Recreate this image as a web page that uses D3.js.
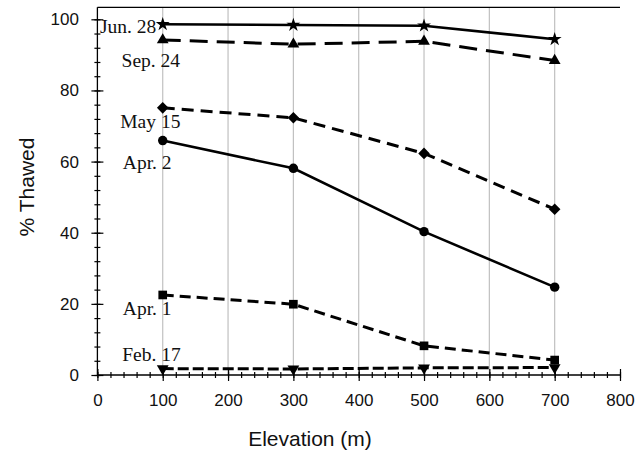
<!DOCTYPE html>
<html>
<head>
<meta charset="utf-8">
<script src="https://cdn.jsdelivr.net/npm/d3@7"></script>
<style>
  body { margin: 0; background: #fff; }
  #chart { width: 640px; height: 450px; }
</style>
</head>
<body>
<div id="chart"></div>
<script>
// elevations (m)
const elevations = [100, 300, 500, 700];

// % thawed per survey date
const jun28 = [98.6, 98.4, 98.2, 94.4];
const sep24 = [94.2, 93.0, 93.8, 88.4];
const may15 = [75.1, 72.3, 62.3, 46.6];
const apr2 = [65.9, 58.1, 40.3, 24.7];
const apr1 = [22.5, 19.9, 8.2, 4.2];
const feb17 = [1.8, 1.7, 2.0, 2.1];

const seriesNames = ["Jun. 28", "Sep. 24", "May 15", "Apr. 2", "Apr. 1", "Feb. 17"];
const seriesValues = [jun28, sep24, may15, apr2, apr1, feb17];

// label anchor in data units (elevation, %)
const labelElev = [4, 37, 35, 39, 39, 38];
const labelPct = [96.1, 86.7, 69.4, 57.9, 16.9, 4.0];

const xTicks = [0, 100, 200, 300, 400, 500, 600, 700, 800];
const yTicks = [0, 20, 40, 60, 80, 100];

function draw() {
  const margin = {top: 19.3, right: 20, bottom: 75, left: 97.4},
      width = 620 - margin.left,
      height = 375 - margin.top;

  const svg = d3.select("#chart")
    .append("svg")
      .attr("width", 640)
      .attr("height", 450)
    .append("g")
      .attr("transform", `translate(${margin.left}, ${margin.top})`);

  const x = d3.scaleLinear().domain([0, 800]).range([0, width]);
  const y = d3.scaleLinear().domain([0, 100]).range([height, 0]);
  const frameTop = -12;

  // vertical grid lines
  svg.append("g")
    .selectAll("line")
    .data(xTicks.filter(d => d > 0 && d < 800))
    .join("line")
      .attr("x1", d => x(d)).attr("x2", d => x(d))
      .attr("y1", height).attr("y2", frameTop)
      .attr("stroke", "#c0c0c0")
      .attr("stroke-width", 1.2);

  // top frame line
  svg.append("line")
    .attr("x1", 0).attr("x2", width)
    .attr("y1", frameTop).attr("y2", frameTop)
    .attr("stroke", "#000").attr("stroke-width", 1.3);

  // minor ticks
  const xMinor = d3.range(0, 801, 20);
  const yMinor = d3.range(0, 101, 4);

  const styleAxis = g => {
    g.select(".domain").remove();
    g.selectAll("line").attr("stroke", "#000").attr("stroke-width", 1.2);
  };

  svg.append("g").attr("transform", `translate(0, ${height})`)
    .call(d3.axisBottom(x).tickValues(xMinor).tickSize(3).tickFormat(""))
    .call(styleAxis);
  svg.append("g").attr("transform", `translate(0, ${height})`)
    .call(d3.axisTop(x).tickValues(xMinor).tickSize(3).tickFormat(""))
    .call(styleAxis);
  svg.append("g")
    .call(d3.axisLeft(y).tickValues(yMinor).tickSize(3).tickFormat(""))
    .call(styleAxis);
  svg.append("g")
    .call(d3.axisRight(y).tickValues(yMinor).tickSize(3).tickFormat(""))
    .call(styleAxis);

  // major ticks + labels
  const xAx = svg.append("g").attr("transform", `translate(0, ${height})`)
    .call(d3.axisBottom(x).tickValues(xTicks).tickSize(6).tickPadding(13))
    .call(styleAxis);
  svg.append("g").attr("transform", `translate(0, ${height})`)
    .call(d3.axisTop(x).tickValues(xTicks).tickSize(6).tickFormat(""))
    .call(styleAxis);
  const yAx = svg.append("g")
    .call(d3.axisLeft(y).tickValues(yTicks).tickSize(6).tickPadding(12.5))
    .call(styleAxis);
  svg.append("g")
    .call(d3.axisRight(y).tickValues(yTicks).tickSize(6).tickFormat(""))
    .call(styleAxis);

  [xAx, yAx].forEach(a => a.selectAll("text")
    .style("font-family", "'Liberation Sans', Arial, sans-serif")
    .style("font-size", "17px")
    .attr("fill", "#111"));

  // axis lines
  svg.append("line")
    .attr("x1", 0).attr("x2", width).attr("y1", height).attr("y2", height)
    .attr("stroke", "#000").attr("stroke-width", 1.3);
  svg.append("line")
    .attr("x1", 0).attr("x2", 0).attr("y1", height).attr("y2", frameTop)
    .attr("stroke", "#000").attr("stroke-width", 1.3);

  // axis titles
  svg.append("text")
    .attr("x", 310 - margin.left)
    .attr("y", 446 - margin.top)
    .style("text-anchor", "middle")
    .style("font-family", "'Liberation Sans', Arial, sans-serif")
    .style("font-size", "21px")
    .attr("fill", "#111")
    .text("Elevation (m)");

  svg.append("text")
    .attr("transform", "rotate(-90)")
    .attr("x", -(187 - margin.top))
    .attr("y", 34 - margin.left)
    .style("text-anchor", "middle")
    .style("font-family", "'Liberation Sans', Arial, sans-serif")
    .style("font-size", "21px")
    .attr("fill", "#111")
    .text("% Thawed");

  // series definitions
  const dashes = [null, "18,9", "12,7", null, "11,6", "11,4"];
  const symbols = [d3.symbolStar, d3.symbolTriangle, d3.symbolDiamond2, d3.symbolCircle, d3.symbolSquare, d3.symbolTriangle];
  const symSize = [60, 60, 85, 70, 75, 60];
  const symRot = [0, 0, 0, 0, 0, 180];

  const dataReady = seriesNames.map((name, i) => ({
    name: name,
    values: elevations.map((e, j) => ({elev: e, pct: seriesValues[i][j]}))
  }));

  const line = d3.line()
    .x(d => x(d.elev))
    .y(d => y(d.pct));

  svg.selectAll("myLines")
    .data(dataReady)
    .join("path")
      .attr("d", d => line(d.values))
      .attr("stroke", "#000")
      .attr("stroke-dasharray", (d, i) => dashes[i])
      .style("stroke-width", (d, i) => dashes[i] ? 3 : 2.6)
      .style("fill", "none");

  svg.selectAll("myDots")
    .data(dataReady)
    .join("g")
    .each(function(s, i) {
      d3.select(this).selectAll("path")
        .data(s.values)
        .join("path")
          .attr("d", d3.symbol().type(symbols[i]).size(symSize[i]))
          .attr("transform", d => `translate(${x(d.elev)}, ${y(d.pct)}) rotate(${symRot[i]})`)
          .attr("fill", "#000");
    });

  // series labels
  svg.selectAll("myLabels")
    .data(seriesNames)
    .join("text")
      .attr("x", (d, i) => x(labelElev[i]))
      .attr("y", (d, i) => y(labelPct[i]))
      .style("font-family", "'Liberation Serif', 'Times New Roman', serif")
      .style("font-size", "19.5px")
      .attr("fill", "#111")
      .text(d => d);
}

draw();
</script>
</body>
</html>
